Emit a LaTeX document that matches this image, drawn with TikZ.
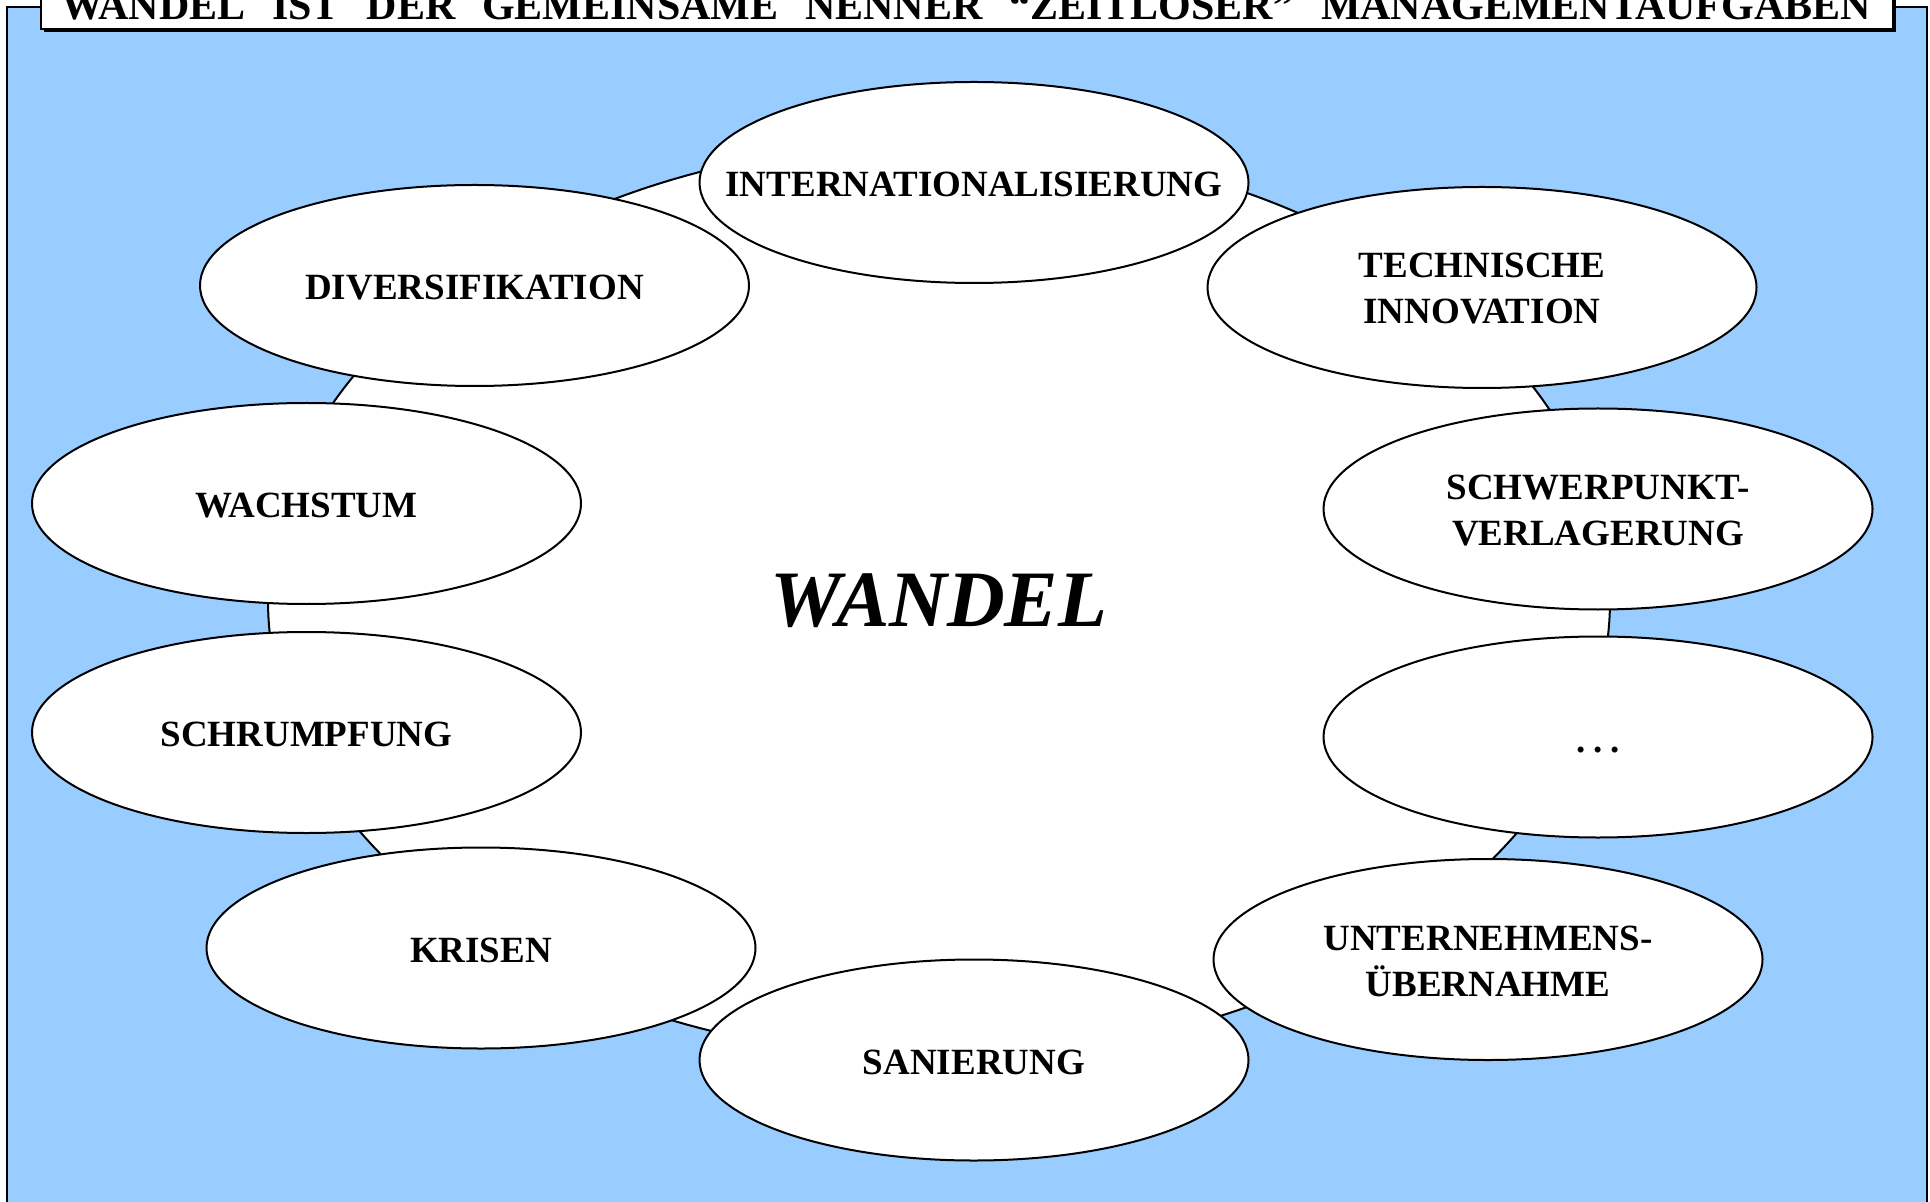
\documentclass[tikz,border=0pt]{standalone}
\usepackage{fontspec}
\setmainfont{Liberation Serif}
\usetikzlibrary{shapes.geometric}
\definecolor{panelblue}{HTML}{99CCFF}
\begin{document}
\begin{tikzpicture}[x=0.5pt,y=-0.5pt,
  bubble/.style={ellipse, draw=black, fill=white, line width=1pt,
    minimum width=274.5pt, minimum height=100.5pt, inner sep=0pt},
  coreshape/.style={ellipse, draw=black, fill=white, line width=1pt,
    minimum width=671pt, minimum height=458pt, inner sep=0pt},
  lbl/.style={font=\fontsize{18.5}{23}\selectfont\bfseries, align=center, inner sep=0pt},
  titlefont/.style={font=\fontsize{21}{25}\selectfont\bfseries, inner sep=0pt}]
\useasboundingbox (0,0) rectangle (1930,1202);
\clip (0,0) rectangle (1930,1202);
% panel
\draw[fill=panelblue, line width=1pt] (7,7) rectangle (1927,1240);
% title box with shadow
\fill[black] (44,-40) rectangle (1896,32.5);
\draw[fill=white, line width=1pt] (41,-40) rectangle (1893,29.5);
\node[titlefont, anchor=base] (title) at (966,19.5)
  {\makebox[905pt][s]{WANDEL IST DER GEMEINSAME NENNER “ZEITLOSER” MANAGEMENTAUFGABEN}};
% central ellipse
\node[coreshape] (core) at (939,600) {};
\node[font=\fontsize{40}{48}\selectfont\bfseries\itshape, inner sep=0pt] (wandel) at (939,601) {WANDEL};
% surrounding ellipses
\node[bubble] (intl)  at (974,182.5) {};
\node[bubble] (tech)  at (1482,287.5) {};
\node[bubble] (div)   at (474.5,285.5) {};
\node[bubble] (wach)  at (306.5,503.5) {};
\node[bubble] (schw)  at (1598,509) {};
\node[bubble] (dots)  at (1598,737) {};
\node[bubble] (schr)  at (306.5,732.5) {};
\node[bubble] (kris)  at (481,948) {};
\node[bubble] (unter) at (1488,959.5) {};
\node[bubble] (san)   at (974,1060) {};
% labels
\node[lbl] (intlT)  at ([yshift=-1pt]intl.center) {INTERNATIONALISIERUNG};
\node[lbl] (techT)  at ([yshift=-0.5pt]tech.center) {TECHNISCHE\\INNOVATION};
\node[lbl] (divT)   at ([yshift=-1pt]div.center) {DIVERSIFIKATION};
\node[lbl] (wachT)  at ([yshift=-1pt]wach.center) {WACHSTUM};
\node[lbl] (schwT)  at ([yshift=-1pt]schw.center) {SCHWERPUNKT-\\VERLAGERUNG};
\node[lbl] (dotsT)  at ([yshift=-6.7pt]dots.center) {.\hspace{0.22em}.\hspace{0.22em}.};
\node[lbl] (schrT)  at ([yshift=-1pt]schr.center) {SCHRUMPFUNG};
\node[lbl] (krisT)  at ([yshift=-1pt]kris.center) {KRISEN};
\node[lbl] (unterT) at ([yshift=-1pt]unter.center) {UNTERNEHMENS-\\ÜBERNAHME};
\node[lbl] (sanT)   at ([yshift=-1pt]san.center) {SANIERUNG};
\end{tikzpicture}
\end{document}
